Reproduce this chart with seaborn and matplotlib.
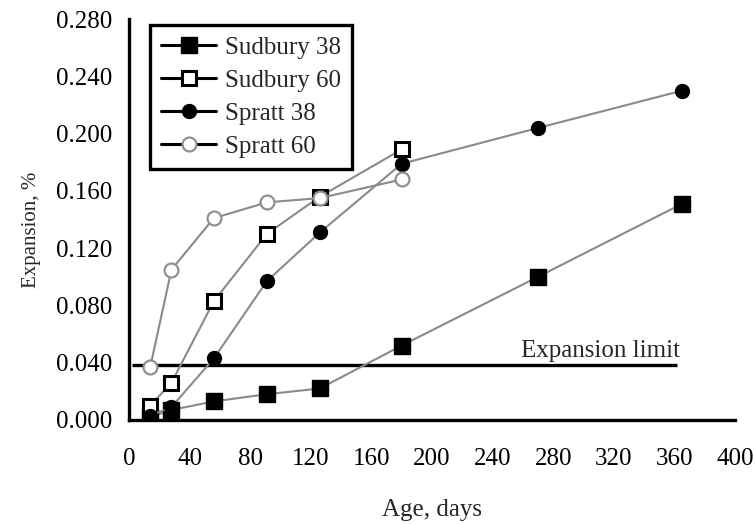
import matplotlib
matplotlib.use("Agg")
import matplotlib.pyplot as plt
import seaborn as sns
import pandas as pd

# Measured expansion of mortar bars over time
sudbury38_days = [14, 28, 56, 91, 126, 180, 270, 365]
sudbury38_exp = [0.002, 0.007, 0.013, 0.018, 0.022, 0.052, 0.100, 0.151]

sudbury60_days = [14, 28, 56, 91, 126, 180]
sudbury60_exp = [0.010, 0.026, 0.083, 0.130, 0.156, 0.189]

spratt38_days = [14, 28, 56, 91, 126, 180, 270, 365]
spratt38_exp = [0.003, 0.009, 0.043, 0.097, 0.131, 0.179, 0.204, 0.230]

spratt60_days = [14, 28, 56, 91, 126, 180]
spratt60_exp = [0.037, 0.105, 0.141, 0.152, 0.155, 0.168]

expansion_limit = 0.0385
x_ticks = [0, 40, 80, 120, 160, 200, 240, 280, 320, 360, 400]
y_ticks = [0.000, 0.040, 0.080, 0.120, 0.160, 0.200, 0.240, 0.280]

sns.set_style("white")
plt.rcParams["font.family"] = ["Liberation Serif", "DejaVu Serif"]

FS = 18

fig = plt.figure(figsize=(7.55, 5.24), dpi=100)
ax = fig.add_axes([0.1709, 0.1985, 0.8026, 0.765])

line_col = "#8a8a8a"
series = [
    ("Sudbury 38", sudbury38_days, sudbury38_exp,
     dict(marker="s", markersize=11.5, markerfacecolor="black", markeredgecolor="black", markeredgewidth=1.0)),
    ("Sudbury 60", sudbury60_days, sudbury60_exp,
     dict(marker="s", markersize=10.5, markerfacecolor="white", markeredgecolor="black", markeredgewidth=2.2)),
    ("Spratt 38", spratt38_days, spratt38_exp,
     dict(marker="o", markersize=10, markerfacecolor="black", markeredgecolor="black", markeredgewidth=1.0)),
    ("Spratt 60", spratt60_days, spratt60_exp,
     dict(marker="o", markersize=10, markerfacecolor="white", markeredgecolor="#909090", markeredgewidth=1.6)),
]

for name, d, v, mk in series:
    df = pd.DataFrame({"Age": d, "Expansion": v})
    sns.lineplot(data=df, x="Age", y="Expansion", ax=ax, color=line_col,
                 linewidth=1.5, label=name, **mk)

ax.hlines(expansion_limit, 2, 362, color="black", linewidth=2.4, zorder=1)
ax.text(363.5, expansion_limit + 0.0056, "Expansion limit", ha="right", va="baseline", fontsize=FS)

ax.set_xlim(0, 400)
ax.set_ylim(0, 0.280)
ax.set_xticks(x_ticks)
ax.set_yticks(y_ticks)
ax.set_yticklabels([f"{t:.3f}" for t in y_ticks])
ax.tick_params(direction="in", length=7, width=2.2, labelsize=FS, colors="black")
ax.tick_params(axis="y", pad=12)
ax.tick_params(axis="x", pad=20)
ax.set_xlabel("Age, days", fontsize=FS, labelpad=21)
ax.set_ylabel("Expansion, %", fontsize=15)
ax.yaxis.set_label_coords(-0.145, 0.474)

for s in ["top", "right"]:
    ax.spines[s].set_visible(False)
for s in ["left", "bottom"]:
    ax.spines[s].set_linewidth(2.4)
    ax.spines[s].set_color("black")

# Legend lines in black with matching markers
handles, labels = ax.get_legend_handles_labels()
leg = ax.legend(handles, labels, loc="upper left", bbox_to_anchor=(0.0347, 0.985),
                borderaxespad=0, fontsize=FS, frameon=True, fancybox=False,
                borderpad=0.45, labelspacing=0.42, handlelength=2.2, handletextpad=0.35)
leg.get_frame().set_edgecolor("black")
leg.get_frame().set_linewidth(2.4)
leg.get_frame().set_alpha(1)
for h in leg.legend_handles:
    h.set_color("black")
    h.set_linewidth(2.2)
leg.legend_handles[0].set_markerfacecolor("black")
leg.legend_handles[1].set_markerfacecolor("white")
leg.legend_handles[1].set_markeredgecolor("black")
leg.legend_handles[2].set_markerfacecolor("black")
leg.legend_handles[3].set_markerfacecolor("white")
leg.legend_handles[3].set_markeredgecolor("#909090")

fig.savefig("out.png", dpi=100)
